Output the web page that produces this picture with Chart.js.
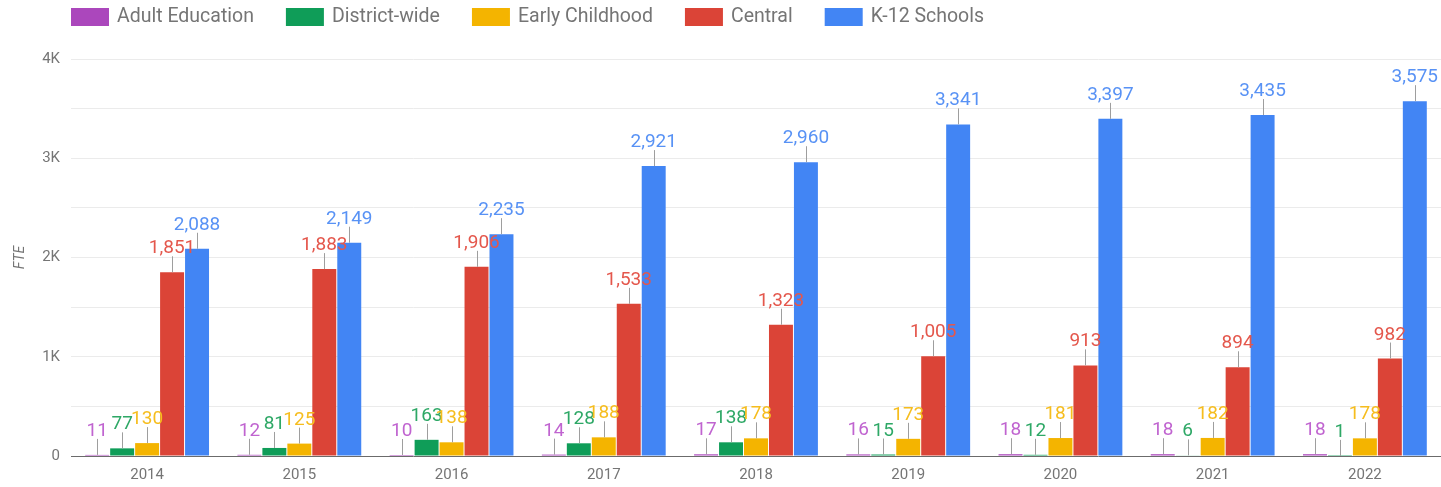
<!DOCTYPE html>
<html>
<head>
<meta charset="utf-8">
<title>FTE by year</title>
<script src="https://cdn.jsdelivr.net/npm/chart.js@4.4.0/dist/chart.umd.min.js"></script>
<style>
  body { margin: 0; background: #fff; }
</style>
</head>
<body>
<canvas id="fteChart" width="1441" height="487"></canvas>
<script>
// data
var years = ['2014', '2015', '2016', '2017', '2018', '2019', '2020', '2021', '2022'];
var adultEducation = [11, 12, 10, 14, 17, 16, 18, 18, 18];
var districtWide = [77, 81, 163, 128, 138, 15, 12, 6, 1];
var earlyChildhood = [130, 125, 138, 188, 178, 173, 181, 182, 178];
var central = [1851, 1883, 1906, 1533, 1323, 1005, 913, 894, 982];
var k12Schools = [2088, 2149, 2235, 2921, 2960, 3341, 3397, 3435, 3575];
var yTickLabels = { 0: '0', 1000: '1K', 2000: '2K', 3000: '3K', 4000: '4K' };

var FONT = 'Roboto, "Noto Sans", sans-serif';

// value labels with a little stem above each bar
var stemLabels = {
    id: 'stemLabels',
    afterDatasetsDraw: function (chart) {
        var ctx = chart.ctx;
        ctx.save();
        ctx.font = '19px ' + FONT;
        ctx.textAlign = 'center';
        ctx.textBaseline = 'alphabetic';
        chart.data.datasets.forEach(function (ds, i) {
            var meta = chart.getDatasetMeta(i);
            meta.data.forEach(function (bar, j) {
                var top = bar.y;
                ctx.strokeStyle = '#9e9e9e';
                ctx.lineWidth = 1;
                ctx.beginPath();
                ctx.moveTo(Math.round(bar.x) + 0.5, top);
                ctx.lineTo(Math.round(bar.x) + 0.5, top - 16);
                ctx.stroke();
                ctx.fillStyle = ds.labelColor;
                ctx.fillText(ds.data[j].toLocaleString('en-US'), bar.x, top - 19);
            });
        });
        ctx.restore();
    }
};

// legend across the top, left aligned
var topLegend = {
    id: 'topLegend',
    afterDraw: function (chart) {
        var ctx = chart.ctx;
        ctx.save();
        ctx.font = '19.5px ' + FONT;
        ctx.textBaseline = 'middle';
        var x = 71;
        chart.data.datasets.forEach(function (ds) {
            ctx.fillStyle = ds.backgroundColor;
            ctx.fillRect(x, 8, 38, 18);
            x += 46;
            ctx.fillStyle = '#757575';
            ctx.fillText(ds.label, x, 17);
            x += ctx.measureText(ds.label).width + 32;
        });
        ctx.restore();
    }
};

var ctx = document.getElementById('fteChart').getContext('2d');
var chart = new Chart(ctx, {
    type: 'bar',
    data: {
        labels: years,
        datasets: [
            { label: 'Adult Education', data: adultEducation, backgroundColor: '#ab47bc', labelColor: '#c064d0' },
            { label: 'District-wide', data: districtWide, backgroundColor: '#0f9d58', labelColor: '#2ea866' },
            { label: 'Early Childhood', data: earlyChildhood, backgroundColor: '#f4b400', labelColor: '#f6bd1e' },
            { label: 'Central', data: central, backgroundColor: '#db4437', labelColor: '#e4574c' },
            { label: 'K-12 Schools', data: k12Schools, backgroundColor: '#4285f4', labelColor: '#5892f5' }
        ]
    },
    options: {
        responsive: false,
        animation: false,
        categoryPercentage: 0.82,
        barPercentage: 0.96,
        layout: { padding: { top: 59, right: 0, bottom: 0, left: 0 } },
        plugins: {
            legend: { display: false },
            tooltip: { enabled: false }
        },
        scales: {
            x: {
                afterFit: function (scale) { scale.height = 31; },
                grid: { display: false, drawTicks: false },
                border: { display: false },
                ticks: { color: '#757575', font: { family: FONT, size: 15 }, padding: 10 }
            },
            y: {
                min: 0,
                max: 4000,
                afterFit: function (scale) { scale.width = 71; },
                grid: {
                    drawTicks: false,
                    color: function (c) { return c.tick.value === 0 ? '#6b6b6b' : '#ebebeb'; }
                },
                border: { display: false },
                ticks: {
                    stepSize: 500,
                    padding: 11,
                    color: '#757575',
                    font: { family: FONT, size: 15 },
                    callback: function (v) { return yTickLabels[v] !== undefined ? yTickLabels[v] : ''; }
                },
                title: {
                    display: true,
                    text: 'FTE',
                    color: '#757575',
                    font: { family: FONT, size: 14, style: 'italic' },
                    padding: { top: 12, bottom: 0 }
                }
            }
        }
    },
    plugins: [stemLabels, topLegend]
});
</script>
</body>
</html>
